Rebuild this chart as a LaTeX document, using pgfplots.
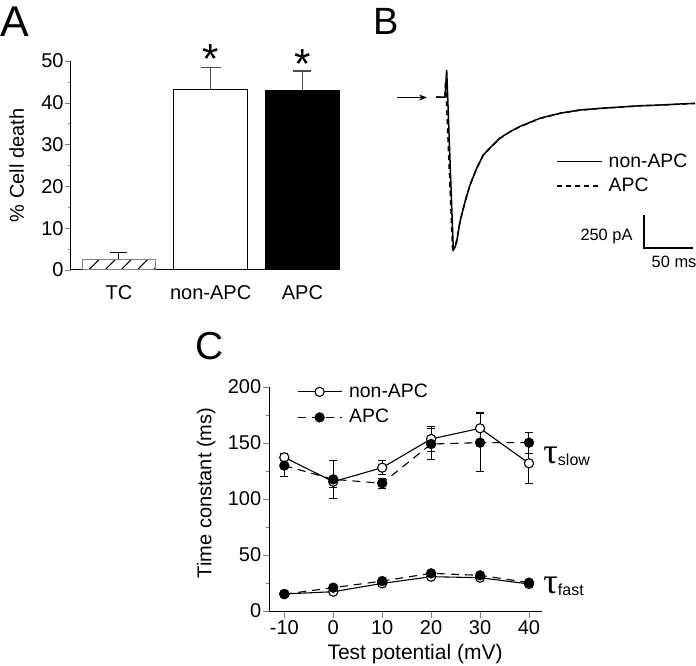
\documentclass[border=0pt]{standalone}
\usepackage{pgfplots}
\pgfplotsset{compat=1.18}
\usepackage{fontspec}
\setmainfont{Liberation Sans}
\newfontfamily\serifface{Liberation Serif}
\usetikzlibrary{patterns.meta,arrows.meta}

\begin{document}
\begin{tikzpicture}[font=\fontsize{10}{12}\selectfont]
\path[use as bounding box] (0,0) rectangle (348pt,332.5pt);
\pgfplotsset{
  every axis/.append style={line width=0.5pt, font=\fontsize{10}{12}\selectfont, /pgf/number format/assume math mode=true},
}
% panel letters
\node[anchor=base west, inner sep=0, font=\fontsize{21.5}{21}\selectfont] at (0.2pt,314pt) {A};
\node[anchor=base west, inner sep=0, font=\fontsize{19}{19}\selectfont] at (186.5pt,315pt) {B};
\node[anchor=base west, inner sep=0, font=\fontsize{19.5}{19}\selectfont] at (97.5pt,153pt) {C};

% ---------------- Panel A ----------------
\begin{axis}[at={(35.5pt,197.5pt)}, anchor=south west, scale only axis,
  width=134.5pt, height=104.5pt,
  xmin=-0.522, xmax=2.41, ymin=0, ymax=50,
  axis x line*=bottom, axis y line*=left,
  xtick={0,1,2}, xticklabels={TC,non-APC,APC},
  major x tick style={draw=none},
  xticklabel style={yshift=-1pt},
  ytick={0,10,...,50}, minor y tick num=1,
  tick align=outside, major tick length=3pt, minor tick length=1.5pt,
  yticklabel style={inner sep=0.5pt},
  ylabel={\% Cell death},
  ylabel style={at={(axis description cs:-0.202,0.5)}, anchor=center},
  clip=false]
\addplot[ybar, bar width=0.8, bar shift=0pt, draw=gray,
  pattern={Lines[angle=45,distance=5.7pt,line width=0.5pt]},
  error bars/.cd, y dir=plus, y explicit,
  error bar style={black, line width=0.5pt},
  error mark options={rotate=90, black, mark size=4.2pt, line width=0.5pt}]
  coordinates {(0,2.56) +- (0,1.67)};
\addplot[ybar, bar width=0.8, bar shift=0pt, draw=black, fill=white,
  error bars/.cd, y dir=plus, y explicit,
  error bar style={gray!60!black, line width=0.6pt},
  error mark options={rotate=90, gray!60!black, mark size=5pt, line width=0.6pt}]
  coordinates {(1,43.3) +- (0,5.2)};
\addplot[ybar, bar width=0.8, bar shift=0pt, draw=black, fill=black,
  error bars/.cd, y dir=plus, y explicit,
  error bar style={gray!60!black, line width=0.6pt},
  error mark options={rotate=90, gray!60!black, mark size=4.5pt, line width=0.6pt}]
  coordinates {(2,43.0) +- (0,4.6)};
\node[anchor=base, inner sep=0, font=\fontsize{21}{20}\selectfont] at (axis cs:1,46.9) {*};
\node[anchor=base, inner sep=0, font=\fontsize{21}{20}\selectfont] at (axis cs:2,45.7) {*};
\end{axis}

% ---------------- Panel B ----------------
\begin{axis}[at={(195.95pt,194.9pt)}, anchor=south west, scale only axis,
  width=151.41pt, height=105.6pt,
  xmin=-45, xmax=264, ymin=-1350, ymax=250,
  hide axis, clip=false,
  legend style={draw=none, fill=none, at={(axis description cs:0.542,0.588)},
    anchor=north west, inner sep=0pt, row sep=1.8pt,
    font=\fontsize{9.7}{11}\selectfont,
    nodes={inner sep=1pt},
    /tikz/every odd column/.append style={column sep=2pt}},
  legend cell align=left,
  legend image code/.code={\draw[#1, line width=0.6pt] (0pt,0pt) -- (22.5pt,0pt);}]
\addplot[black, line width=0.75pt] coordinates {
 (0,0) (9.2,0) (10.9,204) (17.65,-1159) (19.3,-1140) (21.1,-1096) (24.5,-945)
 (29.6,-793) (34.7,-667) (41.5,-540) (48.3,-439) (55.1,-385) (65.3,-311)
 (75.5,-263) (85.7,-223) (106.1,-161) (126.5,-123) (146.9,-98) (167.3,-86)
 (187.8,-76) (208.2,-66) (228.6,-61) (249,-53) (264.3,-48)};
\addplot[black, line width=0.75pt, dash pattern=on 2.5pt off 2pt] coordinates {
 (0,0) (9.2,0) (9.8,120) (16.9,-1150) (19.0,-1135) (21.0,-1090) (24.3,-950)
 (29.4,-800) (34.5,-670) (41.3,-545) (48.1,-442) (55,-388) (65.2,-314)
 (75.4,-265) (85.6,-225) (106,-163) (126.4,-124) (146.8,-100) (167.2,-87)
 (187.7,-77) (208.1,-67) (228.5,-62) (249,-54) (264.3,-49)};
\legend{non-APC,APC}
\draw[line width=0.6pt] (axis cs:212.2,-893.9) -- (axis cs:212.2,-1143.9) -- (axis cs:262.2,-1143.9);
\node[anchor=east, inner sep=0, font=\fontsize{8.2}{10}\selectfont] at (axis cs:201,-1058) {250 pA};
\node[anchor=center, inner sep=0, font=\fontsize{8.2}{10}\selectfont] at (axis cs:242.9,-1248) {50 ms};
\draw[line width=0.5pt, -{Stealth[length=4pt,width=3pt]}] (axis cs:-39.8,-4) -- (axis cs:-9.2,-4);
\end{axis}

% ---------------- Panel C ----------------
\begin{axis}[at={(134.65pt,27pt)}, anchor=south west, scale only axis,
  width=136.2pt, height=112.15pt,
  xmin=-13.07, xmax=42.6, ymin=0, ymax=200,
  axis x line*=bottom, axis y line*=left,
  xtick={-10,0,10,20,30,40}, xticklabels={-10,0,10,20,30,40},
  ytick={0,50,...,200}, minor y tick num=1,
  tick align=outside, major tick length=3.3pt, minor tick length=1.7pt,
  yticklabel style={inner sep=0.5pt},
  xticklabel style={inner sep=1pt},
  xlabel={Test potential (mV)},
  xlabel style={at={(axis description cs:0.535,-0.19)}, anchor=center, font=\fontsize{10.5}{12}\selectfont},
  ylabel={Time constant (ms)},
  ylabel style={at={(axis description cs:-0.232,0.526)}, anchor=center},
  clip=false,
  legend style={draw=none, fill=none, at={(axis description cs:0.10,1.025)},
    anchor=north west, inner sep=0pt, row sep=2.5pt,
    font=\fontsize{9.7}{11}\selectfont, nodes={inner sep=1pt},
    /tikz/every odd column/.append style={column sep=2.5pt}},
  legend cell align=left,
  legend image code/.code={\draw[mark repeat=2,mark phase=2,#1] plot coordinates {(0pt,0pt) (11pt,0pt) (22pt,0pt)};}]
% non-APC slow
\addplot[black, line width=0.55pt, mark=*, mark size=2.3pt, mark options={solid, fill=white},
  error bars/.cd, y dir=both, y explicit,
  error bar style={black, line width=0.5pt, solid},
  error mark options={rotate=90, black, mark size=2pt, line width=0.5pt}]
  coordinates {(-10,137.0) +- (0,3) (0,115.3) +- (0,5) (10,127.8) +- (0,6)
   (20,153.4) +- (0,11.3) (30,162.9) +- (0,14) (40,131.7) +- (0,17.8)};
% non-APC fast
\addplot[black, line width=0.55pt, mark=*, mark size=2.3pt, mark options={solid, fill=white},
  forget plot,
  error bars/.cd, y dir=both, y explicit,
  error bar style={black, line width=0.5pt, solid},
  error mark options={rotate=90, black, mark size=2pt, line width=0.5pt}]
  coordinates {(-10,15.2) +- (0,1.5) (0,17.2) +- (0,1.5) (10,24.6) +- (0,1.5)
   (20,30.6) +- (0,1.5) (30,29.7) +- (0,1.5) (40,24.1) +- (0,1.5)};
% APC slow
\addplot[black, line width=0.55pt, dash pattern=on 4pt off 3pt, mark=*, mark size=2.3pt, mark options={solid, fill=black},
  error bars/.cd, y dir=both, y explicit,
  error bar style={black, line width=0.5pt, solid},
  error mark options={rotate=90, black, mark size=2pt, line width=0.5pt}]
  coordinates {(-10,129.6) +- (0,10) (0,117.4) +- (0,17) (10,113.9) +- (0,4.5)
   (20,148.9) +- (0,14) (30,150.1) +- (0,26) (40,150.1) +- (0,9.5)};
% APC fast
\addplot[black, line width=0.55pt, dash pattern=on 4pt off 3pt, mark=*, mark size=2.3pt, mark options={solid, fill=black},
  forget plot,
  error bars/.cd, y dir=both, y explicit,
  error bar style={black, line width=0.5pt, solid},
  error mark options={rotate=90, black, mark size=2pt, line width=0.5pt}]
  coordinates {(-10,15.0) +- (0,1.5) (0,20.8) +- (0,1.5) (10,26.7) +- (0,1.5)
   (20,33.6) +- (0,1.5) (30,31.8) +- (0,1.5) (40,25.3) +- (0,1.5)};
\legend{non-APC,APC}
\node[anchor=west, inner sep=0] at (axis cs:42.86,137.6) {{\serifface\fontsize{18}{18}\selectfont τ}\raisebox{-1pt}{\fontsize{8}{9}\selectfont slow}};
\node[anchor=west, inner sep=0] at (axis cs:42.86,21.7) {{\serifface\fontsize{18}{18}\selectfont τ}\raisebox{-1pt}{\fontsize{8}{9}\selectfont fast}};
\end{axis}
\end{tikzpicture}
\end{document}
